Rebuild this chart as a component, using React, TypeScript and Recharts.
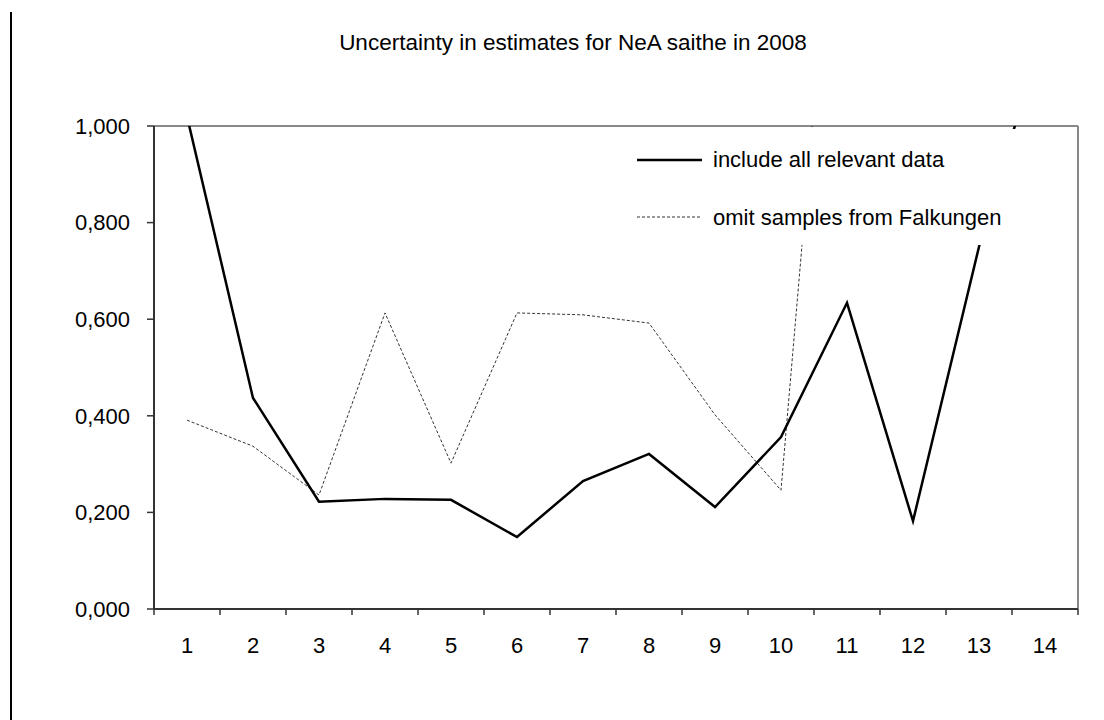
import React from 'react';
import { LineChart, Line, XAxis, YAxis, ReferenceLine, Legend } from 'recharts';

const categories = [1, 2, 3, 4, 5, 6, 7, 8, 9, 10, 11, 12, 13, 14];
const includeAll = [1.02, 0.437, 0.222, 0.228, 0.226, 0.149, 0.265, 0.321, 0.211, 0.356, 0.634, 0.182, 0.75, 1.21];
const omitFalkungen = [0.391, 0.337, 0.236, 0.613, 0.302, 0.613, 0.609, 0.592, 0.402, 0.246, 1.84, null, null, null];
const yTicks = [0, 0.2, 0.4, 0.6, 0.8, 1.0];
const xBoundaryTicks = [0.5, 1.5, 2.5, 3.5, 4.5, 5.5, 6.5, 7.5, 8.5, 9.5, 10.5, 11.5, 12.5, 13.5, 14.5];
const seriesNames = ['include all relevant data', 'omit samples from Falkungen'];
const title = 'Uncertainty in estimates for NeA saithe in 2008';

const data = categories.map((c, i) => ({
  x: c,
  a: includeAll[i],
  b: omitFalkungen[i],
}));

const FONT = '"Liberation Sans", Arial, sans-serif';

const fmt = (v: number) => v.toFixed(3).replace('.', ',');

const LegendBox = () => (
  <svg width={425} height={116} style={{ display: 'block' }}>
    <rect x={0} y={0} width={425} height={116} fill="#fff" />
    <line x1={17} x2={82} y1={31} y2={31} stroke="#000" strokeWidth={2.5} />
    <text x={93} y={38} fontSize={22} fontFamily={FONT} fill="#000">{seriesNames[0]}</text>
    <line x1={17} x2={82} y1={88} y2={88} stroke="#333" strokeWidth={1} strokeDasharray="3 2" />
    <text x={93} y={96} fontSize={22} fontFamily={FONT} fill="#000">{seriesNames[1]}</text>
  </svg>
);

export default function App() {
  return (
    <div style={{ position: 'absolute', left: 0, top: 0, width: 1104, height: 720, background: '#fff', overflow: 'hidden', fontFamily: FONT }}>
      <div style={{ position: 'absolute', left: 10, top: 12, width: 1.5, height: 708, background: '#000' }} />
      <div style={{ position: 'absolute', left: 173, top: 30, width: 800, textAlign: 'center', fontSize: 22.5, lineHeight: '26px', color: '#000', fontFamily: FONT }}>
        {title}
      </div>
      <LineChart width={1104} height={720} data={data} margin={{ top: 126, right: 26, bottom: 0, left: 0 }}>
        <XAxis
          xAxisId="a"
          dataKey="x"
          type="number"
          domain={[0.5, 14.5]}
          ticks={xBoundaryTicks}
          interval={0}
          height={1}
          tickSize={6}
          tickFormatter={() => ''}
          axisLine={{ stroke: '#333', strokeWidth: 2 }}
          tickLine={{ stroke: '#333', strokeWidth: 1.5 }}
          allowDataOverflow
        />
        <XAxis
          xAxisId="b"
          dataKey="x"
          type="number"
          domain={[0.5, 14.5]}
          ticks={categories}
          interval={0}
          height={110}
          tickSize={0}
          tickMargin={27}
          axisLine={false}
          tickLine={false}
          tick={{ fill: '#000', fontSize: 22, fontFamily: FONT }}
          allowDataOverflow
        />
        <YAxis
          type="number"
          domain={[0, 1]}
          ticks={yTicks}
          interval={0}
          width={154}
          tickSize={7}
          tickMargin={17}
          tickFormatter={fmt}
          axisLine={{ stroke: '#333', strokeWidth: 2 }}
          tickLine={{ stroke: '#333', strokeWidth: 1.5 }}
          tick={{ fill: '#000', fontSize: 22, fontFamily: FONT }}
          allowDataOverflow
        />
        <ReferenceLine xAxisId="a" y={1} stroke="#888" strokeWidth={2} />
        <ReferenceLine xAxisId="a" x={14.5} stroke="#888" strokeWidth={2} />
        <Line
          xAxisId="a"
          type="linear"
          dataKey="b"
          stroke="#333"
          strokeWidth={1}
          strokeDasharray="3 2"
          dot={false}
          activeDot={false}
          isAnimationActive={false}
          connectNulls={false}
        />
        <Line
          xAxisId="a"
          type="linear"
          dataKey="a"
          stroke="#000"
          strokeWidth={2.5}
          dot={false}
          activeDot={false}
          isAnimationActive={false}
        />
        <Legend
          layout="vertical"
          align="center"
          verticalAlign="middle"
          content={() => <LegendBox />}
          wrapperStyle={{ position: 'absolute', left: 620, top: 129, width: 425, height: 116, background: '#fff' }}
        />
      </LineChart>
    </div>
  );
}
